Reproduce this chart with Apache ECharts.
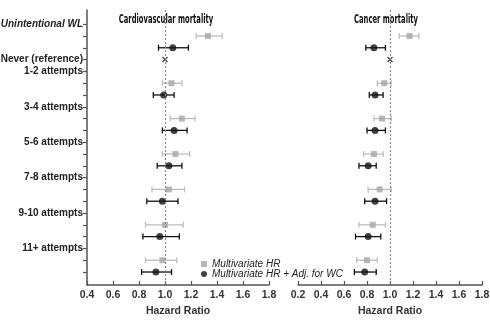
<!DOCTYPE html>
<html>
<head>
<meta charset="utf-8">
<script src="https://cdn.jsdelivr.net/npm/echarts@6/dist/echarts.min.js"></script>
<style>
  html, body { margin: 0; padding: 0; background: #fff; }
  #chart { width: 490px; height: 324px; }
</style>
</head>
<body>
<div id="chart"></div>
<script>
// Weight-loss history groups (row labels on the left axis)
const groups = ['Unintentional WL', 'Never (reference)', '1-2 attempts', '3-4 attempts',
                '5-6 attempts', '7-8 attempts', '9-10 attempts', '11+ attempts'];

// Hazard ratios as [HR, lower 95% CI, upper 95% CI]; null for the reference group
const cvdMultivariate = [[1.33, 1.24, 1.44], null, [1.05, 0.98, 1.13], [1.13, 1.04, 1.23],
                         [1.08, 0.98, 1.19], [1.03, 0.90, 1.15], [1.00, 0.85, 1.14], [0.98, 0.85, 1.09]];
const cvdAdjWC        = [[1.06, 0.95, 1.18], null, [0.99, 0.91, 1.07], [1.07, 0.98, 1.17],
                         [1.03, 0.94, 1.13], [0.98, 0.86, 1.10], [0.96, 0.83, 1.11], [0.93, 0.82, 1.05]];
const cancerMultivariate = [[1.17, 1.08, 1.25], null, [0.95, 0.89, 1.01], [0.93, 0.86, 1.01],
                            [0.86, 0.77, 0.94], [0.91, 0.81, 1.01], [0.85, 0.73, 0.96], [0.80, 0.71, 0.89]];
const cancerAdjWC        = [[0.86, 0.79, 0.96], null, [0.87, 0.82, 0.94], [0.87, 0.80, 0.96],
                            [0.81, 0.73, 0.88], [0.87, 0.78, 0.97], [0.81, 0.70, 0.92], [0.78, 0.69, 0.88]];
const referenceHR = 1.0;
const refGroup = 1;

const cvdTicks = [0.4, 0.6, 0.8, 1.0, 1.2, 1.4, 1.6, 1.8];
const cancerTicks = [0.2, 0.4, 0.6, 0.8, 1.0, 1.2, 1.4, 1.6, 1.8];

const panelTitles = ['Cardiovascular mortality', 'Cancer mortality'];
const xAxisName = 'Hazard Ratio';
const seriesNames = ['Multivariate HR', 'Multivariate HR + Adj. for WC'];

// Each group takes a label row followed by rows for its two estimates;
// the reference group takes a single row.
function rowOf(g) {
  if (g === 0) return 0;
  if (g === refGroup) return 3;
  return 4 + (g - 2) * 3;
}
const labelRows = groups.map((_, g) => rowOf(g));
const rowLabel = {};
groups.forEach((name, g) => { rowLabel[rowOf(g)] = name; });
const allRows = [];
for (let r = 0; r <= 21; r++) allRows.push(r);

function pointData(arr, offset) {
  const out = [];
  arr.forEach((v, g) => { if (v) out.push([v[0], rowOf(g) + offset]); });
  return out;
}
function ciData(arr, offset) {
  const out = [];
  arr.forEach((v, g) => { if (v) out.push([v[1], v[2], rowOf(g) + offset]); });
  return out;
}

const GRAY_BAR = '#bdbdbd';
const GRAY_PT = '#a6a6a6';
const DARK = '#111';
const AXIS = '#555';
const FONT = 'Liberation Sans, Arial, sans-serif';
const TITLE_FONT = 'bold 13px "DejaVu Sans Condensed", "Liberation Sans Narrow", sans-serif';

function errorBarRender(color) {
  return function (params, api) {
    const y = api.value(2);
    const a = api.coord([api.value(0), y]);
    const b = api.coord([api.value(1), y]);
    const cap = 3;
    const style = { stroke: color, lineWidth: 1.3 };
    return {
      type: 'group',
      children: [
        { type: 'line', shape: { x1: a[0], y1: a[1], x2: b[0], y2: b[1] }, style },
        { type: 'line', shape: { x1: a[0], y1: a[1] - cap, x2: a[0], y2: a[1] + cap }, style },
        { type: 'line', shape: { x1: b[0], y1: b[1] - cap, x2: b[0], y2: b[1] + cap }, style }
      ]
    };
  };
}

function crossRender(params, api) {
  const c = api.coord([api.value(0), api.value(1)]);
  const s = 2.5;
  const style = { stroke: '#444', lineWidth: 1.3 };
  return {
    type: 'group',
    children: [
      { type: 'line', shape: { x1: c[0] - s, y1: c[1] - s, x2: c[0] + s, y2: c[1] + s }, style },
      { type: 'line', shape: { x1: c[0] - s, y1: c[1] + s, x2: c[0] + s, y2: c[1] - s }, style }
    ]
  };
}

function panelSeries(idx, mv, adj) {
  return [
    { type: 'custom', xAxisIndex: idx, yAxisIndex: idx, renderItem: errorBarRender(GRAY_BAR),
      data: ciData(mv, 1), encode: { x: [0, 1], y: 2 }, silent: true, z: 2 },
    { type: 'custom', xAxisIndex: idx, yAxisIndex: idx, renderItem: errorBarRender(DARK),
      data: ciData(adj, 2), encode: { x: [0, 1], y: 2 }, silent: true, z: 2 },
    { type: 'custom', xAxisIndex: idx, yAxisIndex: idx, renderItem: crossRender,
      data: [[referenceHR, rowOf(refGroup)]], silent: true, z: 3 },
    { name: seriesNames[0], type: 'scatter', xAxisIndex: idx, yAxisIndex: idx,
      symbol: 'rect', symbolSize: 6, itemStyle: { color: GRAY_PT },
      data: pointData(mv, 1), z: 4,
      markLine: {
        silent: true, symbol: 'none', label: { show: false },
        lineStyle: { color: '#8a8a8a', type: [2, 2], width: 1.2 },
        data: [{ xAxis: referenceHR }]
      }
    },
    { name: seriesNames[1], type: 'scatter', xAxisIndex: idx, yAxisIndex: idx,
      symbol: 'circle', symbolSize: 7, itemStyle: { color: DARK },
      data: pointData(adj, 2), z: 4 }
  ];
}

function xAxis(idx, ticks) {
  return {
    type: 'value', gridIndex: idx,
    min: ticks[0], max: ticks[ticks.length - 1], interval: 0.2,
    name: xAxisName, nameLocation: 'middle', nameGap: 20,
    nameTextStyle: { fontFamily: FONT, fontWeight: 'bold', fontSize: 10.5, color: '#333' },
    axisLine: { onZero: false, lineStyle: { color: AXIS, width: 1.5 } },
    axisTick: { inside: true, length: 4, lineStyle: { color: AXIS, width: 1.2 } },
    axisLabel: { fontFamily: FONT, fontWeight: 'bold', fontSize: 10.5, color: '#333', margin: 5,
                 formatter: v => v.toFixed(1) },
    splitLine: { show: false }
  };
}

function yAxis(idx, show) {
  return {
    type: 'value', gridIndex: idx, inverse: true, min: -1.2, max: 22.1,
    axisLine: { show: show, onZero: false, lineStyle: { color: AXIS, width: 1.5 } },
    axisTick: { show: show, length: 4, customValues: allRows, lineStyle: { color: AXIS, width: 1.2 } },
    axisLabel: {
      show: show, customValues: labelRows, margin: 4,
      formatter: v => (v === 0 ? '{i|' + rowLabel[v] + '}' : rowLabel[v]),
      fontFamily: FONT, fontWeight: 'bold', fontSize: 10, color: '#222',
      rich: { i: { fontFamily: FONT, fontWeight: 'bold', fontStyle: 'italic', fontSize: 10, color: '#222' } }
    },
    splitLine: { show: false }
  };
}

const chart = echarts.init(document.getElementById('chart'), null, { renderer: 'canvas' });
chart.setOption({
  backgroundColor: '#fff',
  animation: false,
  grid: [
    { left: 87, right: 221, top: 10, bottom: 39, outerBoundsMode: 'none', containLabel: false },
    { left: 298, right: 8, top: 10, bottom: 39, outerBoundsMode: 'none', containLabel: false }
  ],
  xAxis: [xAxis(0, cvdTicks), xAxis(1, cancerTicks)],
  yAxis: [yAxis(0, true), yAxis(1, false)],
  legend: {
    orient: 'vertical', left: 196, top: 254, itemWidth: 6, itemHeight: 6, itemGap: 0,
    textStyle: { fontFamily: FONT, fontStyle: 'italic', fontSize: 10, lineHeight: 10, color: '#222' },
    data: [{ name: seriesNames[0], icon: 'rect' }, { name: seriesNames[1], icon: 'circle' }],
    selectedMode: false
  },
  graphic: [
    { type: 'text', x: 166, y: 20, scaleX: 0.58,
      style: { text: panelTitles[0], align: 'center', verticalAlign: 'middle',
               font: TITLE_FONT, fill: '#111' } },
    { type: 'text', x: 386, y: 20, scaleX: 0.58,
      style: { text: panelTitles[1], align: 'center', verticalAlign: 'middle',
               font: TITLE_FONT, fill: '#111' } }
  ],
  series: [...panelSeries(0, cvdMultivariate, cvdAdjWC), ...panelSeries(1, cancerMultivariate, cancerAdjWC)]
});
</script>
</body>
</html>
